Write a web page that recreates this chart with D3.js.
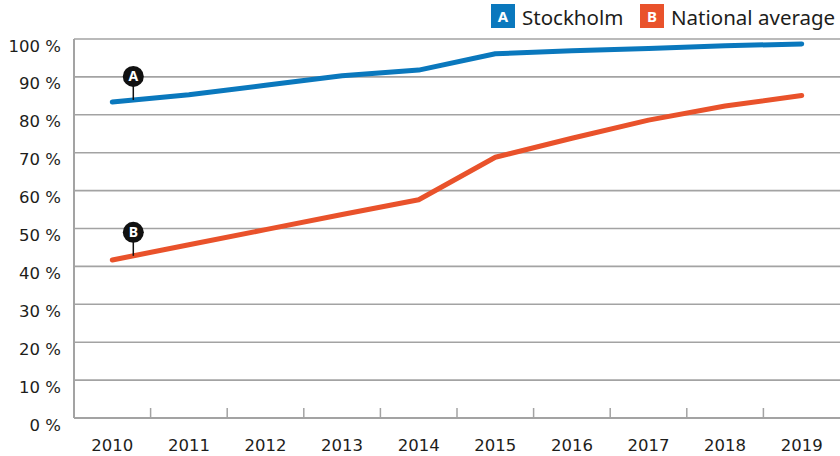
<!DOCTYPE html>
<html>
<head>
<meta charset="utf-8">
<script src="https://cdn.jsdelivr.net/npm/d3@7"></script>
<style>
  html, body { margin: 0; padding: 0; background: #fff; }
  svg { display: block; font-family: "Noto Sans", sans-serif; }
</style>
</head>
<body>
<svg id="chart" width="840" height="456"></svg>
<script>
const years = ["2010","2011","2012","2013","2014","2015","2016","2017","2018","2019"];
const stockholm = [83.4, 85.3, 87.8, 90.3, 91.8, 96.1, 96.9, 97.5, 98.2, 98.7];
const national = [41.7, 45.7, 49.7, 53.7, 57.6, 68.8, 73.8, 78.6, 82.3, 85.1];
const yTicks = [0, 10, 20, 30, 40, 50, 60, 70, 80, 90, 100];
const seriesNames = ["Stockholm", "National average"];
const seriesLetters = ["A", "B"];
const seriesColors = ["#0a78bd", "#e9522b"];

(function () {
const svg = d3.select("#chart");
const mLeft = 74, mRight = 840, mTop = 39, mBottom = 418;
const axisFont = "'DejaVu Sans', sans-serif";

const x = d3.scaleBand().domain(years).range([mLeft, mRight]).padding(0);
const y = d3.scaleLinear().domain([0, 100]).range([mBottom, mTop]);
const cx = d => x(d) + x.bandwidth() / 2;

const gridColor = "#a3a3a3";

// gridlines
svg.append("g").selectAll("line").data(yTicks.filter(t => t > 0)).join("line")
  .attr("x1", mLeft).attr("x2", mRight)
  .attr("y1", d => y(d)).attr("y2", d => y(d))
  .attr("stroke", gridColor).attr("stroke-width", 1.6);

// left axis line
svg.append("line").attr("x1", mLeft).attr("x2", mLeft).attr("y1", y(100)).attr("y2", y(0))
  .attr("stroke", gridColor).attr("stroke-width", 2);

// bottom axis
const xAxis = d3.axisBottom(x).tickSize(0).tickPadding(0);
const gx = svg.append("g").attr("transform", `translate(0,${y(0)})`).call(xAxis);
gx.select(".domain").remove();
gx.selectAll("text").attr("y", 33).attr("font-size", 16.5).attr("fill", "#1d1d1b")
  .attr("font-family", axisFont).attr("dy", 0);
svg.append("line").attr("x1", mLeft).attr("x2", mRight).attr("y1", y(0)).attr("y2", y(0))
  .attr("stroke", gridColor).attr("stroke-width", 2);
// band boundary ticks
svg.append("g").selectAll("line").data(years.slice(1)).join("line")
  .attr("x1", d => x(d)).attr("x2", d => x(d))
  .attr("y1", y(0)).attr("y2", y(0) - 10)
  .attr("stroke", gridColor).attr("stroke-width", 1.5);

// y labels
svg.append("g").selectAll("text").data(yTicks).join("text")
  .attr("x", 61).attr("y", d => y(d) + 12.5)
  .attr("text-anchor", "end").attr("font-size", 16.5).attr("fill", "#1d1d1b")
  .attr("font-family", axisFont)
  .text(d => d + " %");

// lines
const line = d3.line().x((d, i) => cx(years[i])).y(d => y(d));
[stockholm, national].forEach((vals, k) => {
  svg.append("path").datum(vals).attr("d", line)
    .attr("fill", "none").attr("stroke", seriesColors[k]).attr("stroke-width", 5)
    .attr("stroke-linecap", "round").attr("stroke-linejoin", "round");
});

// callout markers
[stockholm, national].forEach((vals, k) => {
  const mx = cx(years[0]) + 21;
  const t = (mx - cx(years[0])) / (cx(years[1]) - cx(years[0]));
  const ly = y(vals[0] + (vals[1] - vals[0]) * t);
  const cy = ly - 23.5;
  svg.append("line").attr("x1", mx).attr("x2", mx).attr("y1", cy).attr("y2", ly)
    .attr("stroke", "#111").attr("stroke-width", 1.5);
  svg.append("circle").attr("cx", mx).attr("cy", cy).attr("r", 10.5).attr("fill", "#111");
  svg.append("text").attr("x", mx).attr("y", cy + 5).attr("text-anchor", "middle")
    .attr("font-size", 14).attr("font-weight", "bold").attr("fill", "#fff")
    .text(seriesLetters[k]);
});

// legend
const legendX = [491, 640];
seriesNames.forEach((name, k) => {
  const g = svg.append("g").attr("transform", `translate(${legendX[k]},4)`);
  g.append("rect").attr("width", 24).attr("height", 24).attr("fill", seriesColors[k]);
  g.append("text").attr("x", 12).attr("y", 18).attr("text-anchor", "middle")
    .attr("font-size", 15).attr("font-weight", "bold").attr("fill", "#fff").text(seriesLetters[k]);
  g.append("text").attr("x", 31).attr("y", 20.5).attr("font-size", 20.5).attr("fill", "#1d1d1b").text(name);
});
})();
</script>
</body>
</html>
